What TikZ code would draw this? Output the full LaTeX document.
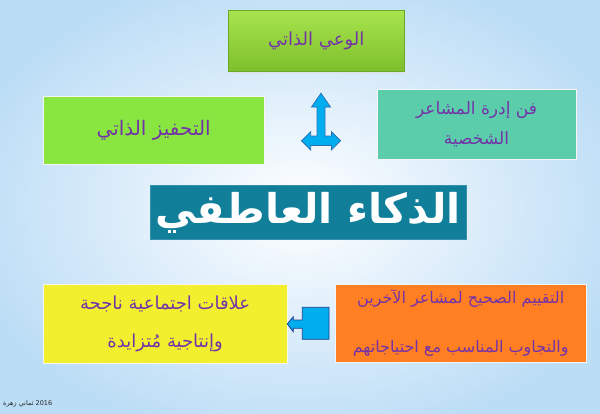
\documentclass[tikz,border=0pt]{standalone}
\usepackage{fontspec}
\newfontfamily\arabicfont[Script=Arabic]{DejaVu Sans}
\TeXXeTstate=1
\definecolor{bgblue}{HTML}{BCDDF6}
\definecolor{txtpurple}{HTML}{7432A8}
\definecolor{greentop}{HTML}{A8E44E}
\definecolor{greenbot}{HTML}{7DC02C}
\definecolor{greenedge}{HTML}{6EA828}
\definecolor{limefill}{HTML}{89E640}
\definecolor{tealfill}{HTML}{5BCDAA}
\definecolor{titlefill}{HTML}{117E9A}
\definecolor{yellowfill}{HTML}{F2F02E}
\definecolor{orangefill}{HTML}{FF7F22}
\definecolor{arrowblue}{HTML}{00AEEF}
\definecolor{arrowedge}{HTML}{2B6FB5}
\definecolor{calloutedge}{HTML}{1F3F8F}
\tikzset{
  boxnode/.style={rectangle, inner sep=0pt, outer sep=0pt, align=center,
    text=txtpurple, draw=white!60!gray!20, line width=0.6pt},
  boxfont/.style 2 args={font=\arabicfont\fontsize{#1}{#2}\selectfont},
  arrowshape/.style={fill=arrowblue, draw=arrowedge, line width=0.8pt, line join=miter}
}
\begin{document}
\begin{tikzpicture}[x=1pt,y=-1pt]
\useasboundingbox (0,0) rectangle (600,413);
\shade[inner color=white, outer color=bgblue] (-40,-30) rectangle (640,443);
% top box shadow
\fill[gray!25, opacity=0.5] (230,71) rectangle (406,74);
\node[boxnode, boxfont={18}{20}, top color=greentop, bottom color=greenbot, draw=greenedge, line width=1pt,
  minimum width=175.5pt, minimum height=61pt] (awareness) at (316.25,40.5)
  {\beginR الوعي الذاتي\endR};
\node[boxnode, boxfont={20}{22}, fill=limefill, minimum width=220.7pt, minimum height=67.3pt]
  (motivation) at (153.65,130.35) {\beginR التحفيز الذاتي\endR};
\node[boxnode, boxfont={17}{30}, fill=tealfill, minimum width=199pt, minimum height=69.3pt]
  (managing) at (476.5,124.35) {\beginR فن إدرة المشاعر\endR\\\beginR الشخصية\endR};
\node[rectangle, inner sep=0pt, fill=titlefill, draw=titlefill!85!white, line width=0.6pt,
  minimum width=316pt, minimum height=53.6pt, text=white,
  font=\arabicfont\bfseries\fontsize{41}{44}\selectfont]
  (title) at (308,212.5) {\beginR الذكاء العاطفي\endR};
\node[boxnode, boxfont={18}{38}, fill=yellowfill, minimum width=243.7pt, minimum height=79.3pt]
  (relations) at (165.15,323.65) {\beginR علاقات اجتماعية ناجحة\endR\\\beginR وإنتاجية مُتزايدة\endR};
\node[boxnode, boxfont={16}{49}, fill=orangefill, minimum width=250.7pt, minimum height=78.3pt]
  (empathy) at (460.65,323.15) {\beginR التقييم الصحيح لمشاعر الآخرين\endR\\\beginR والتجاوب المناسب مع احتياجاتهم\endR};
% up / left / right arrow
\draw[arrowshape] (321,93.3) -- (330.5,107) -- (325,107) -- (325,136) -- (331.4,136)
  -- (331.4,131.7) -- (340.6,140.8) -- (331.4,150) -- (331.4,145.5) -- (310.7,145.5)
  -- (310.7,150) -- (301.5,140.8) -- (310.7,131.7) -- (310.7,136) -- (317,136)
  -- (317,107) -- (311.5,107) -- cycle;
% left arrow callout
\draw[arrowshape, draw=calloutedge] (287.3,324) -- (293.3,316.7) -- (293.3,320) -- (302.3,320)
  -- (302.3,307.3) -- (329,307.3) -- (329,339.3) -- (302.3,339.3) -- (302.3,328.3)
  -- (293.3,328.3) -- (293.3,331.7) -- cycle;
% footer
\node[anchor=west, inner sep=0pt, font=\arabicfont\fontsize{6.5}{8}\selectfont, text=black!85]
  (footer) at (3,404) {\beginR ثماني زهرة\endR\ 2016};
\end{tikzpicture}
\end{document}
